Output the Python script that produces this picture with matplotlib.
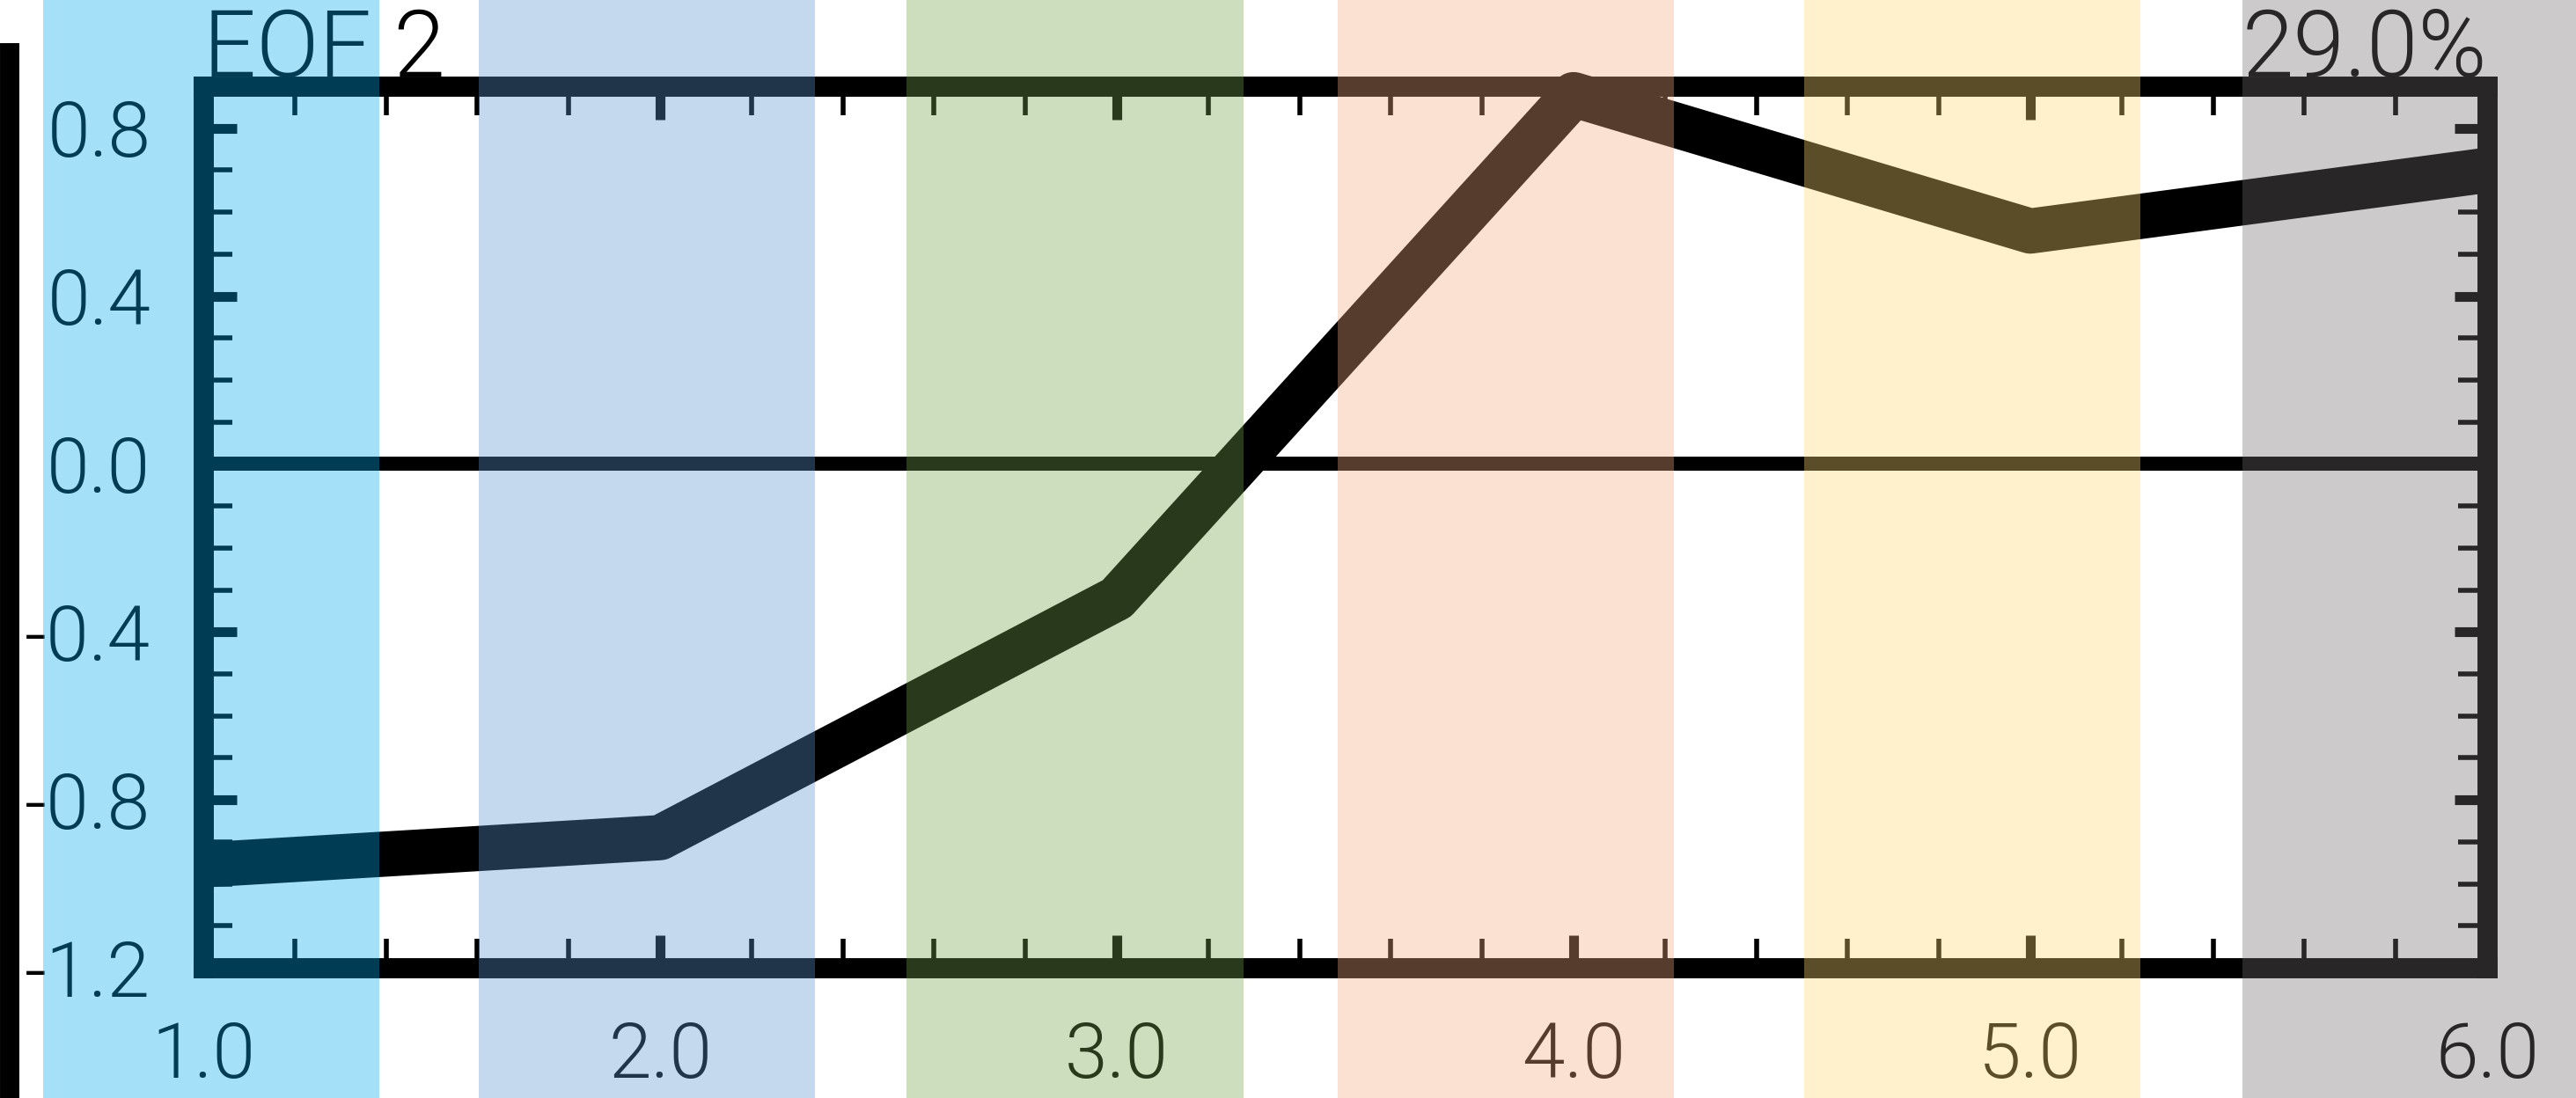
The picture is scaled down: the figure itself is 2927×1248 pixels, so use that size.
import matplotlib
matplotlib.use('Agg')
import matplotlib.pyplot as plt
from matplotlib.transforms import offset_copy

# EOF 2 loading per mode
modes = [1.0, 2.0, 3.0, 4.0, 5.0, 6.0]
eof2 = [-0.955, -0.89, -0.32, 0.88, 0.555, 0.70]

x_ticks = [1.0, 2.0, 3.0, 4.0, 5.0, 6.0]
x_labels = ['1.0', '2.0', '3.0', '4.0', '5.0', '6.0']
y_ticks = [-1.2, -0.8, -0.4, 0.0, 0.4, 0.8]
y_labels = ['-1.2', '-0.8', '-0.4', '0.0', '0.4', '0.8']

title = 'EOF 2'
variance = '29.0%'

# highlighted column bands (x start / end)
band_lo = [0.649, 1.603, 2.540, 3.484, 4.505, 5.464]
band_hi = [1.385, 2.339, 3.277, 4.220, 5.241, 6.200]
band_colors = ['#00abee', '#5c97cf', '#73a54e', '#f4ab81', '#ffda6e', '#736d70']

# ticks on the right edge of the neighbouring panel (cut off)
prev_ticks = [0, 1, 2, 3, 4, 5]

plt.rcParams['font.family'] = ['Roboto', 'DejaVu Sans']
plt.rcParams['font.weight'] = 300
plt.rcParams['axes.unicode_minus'] = False

fig = plt.figure(figsize=(29.27, 12.48), dpi=100, facecolor='white')

# sliver of the previous panel at the far left
ax0 = fig.add_axes([-0.1, 0.0, 0.10376, 0.952])
ax0.patch.set_visible(False)
for side in ['left', 'top', 'bottom']:
    ax0.spines[side].set_visible(False)
ax0.spines['right'].set_linewidth(15.8)
ax0.set_ylim(-0.138, 5.165)
ax0.set_xticks([])
ax0.set_yticks(prev_ticks)
ax0.yaxis.tick_right()
ax0.tick_params(axis='y', direction='out', length=3.6, width=15, labelright=False)

# main panel
ax = fig.add_axes([0.07892, 0.11859, 0.88658, 0.80288])
ax.set_xlim(1, 6)
ax.set_ylim(-1.2, 0.9)

ax.axhline(0, color='black', lw=11.5, zorder=2)
ax.plot(modes, eof2, color='black', lw=37, solid_capstyle='butt',
        solid_joinstyle='round', clip_on=False, zorder=4)

for sp in ax.spines.values():
    sp.set_linewidth(16.5)
    sp.set_capstyle('projecting')

ax.set_xticks(x_ticks)
ax.set_xticklabels(x_labels)
ax.set_yticks(y_ticks)
ax.set_yticklabels(y_labels)
ax.set_xticks([1 + 0.2 * i for i in range(26)], minor=True)
ax.set_yticks([-1.2 + 0.1 * i for i in range(21)], minor=True)
ax.tick_params(which='both', direction='in', top=True, right=True,
               labelsize=63, colors='black')
ax.tick_params(which='major', length=27, width=8, pad=43)
ax.tick_params(which='minor', length=24, width=4)

shift = offset_copy(ax.transAxes, fig=fig, x=0, y=11.5, units='dots')
ax.text(0, 1, title, transform=shift, ha='left', va='baseline',
        fontsize=76, zorder=3)
ax.text(1, 1, variance, transform=shift, ha='right', va='baseline',
        fontsize=76, zorder=3)

# translucent column bands over everything
for lo, hi, c in zip(band_lo, band_hi, band_colors):
    ax.axvspan(lo, hi, ymin=-0.3, ymax=1.3, color=c, alpha=0.357,
               lw=0, clip_on=False, zorder=10)

fig.savefig('out.png', dpi=100, facecolor='white')
